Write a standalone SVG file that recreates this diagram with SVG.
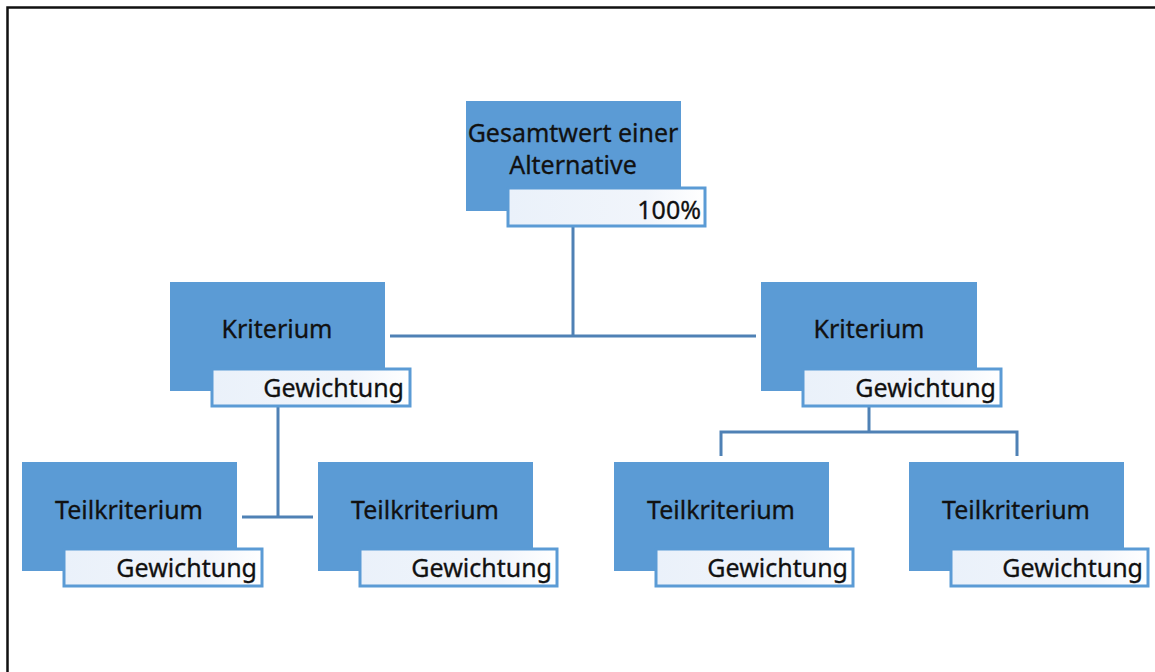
<svg xmlns="http://www.w3.org/2000/svg" width="1155" height="672" viewBox="0 0 1155 672">
<defs>
<linearGradient id="lg" x1="0" y1="0" x2="1" y2="0">
<stop offset="0" stop-color="#eaf1fa"/>
<stop offset="0.7" stop-color="#f1f5fb"/>
<stop offset="1" stop-color="#ffffff"/>
</linearGradient>
</defs>
<style>
.box{fill:#5b9bd5;}
.lab{fill:url(#lg);stroke:#5b9bd5;stroke-width:3;}
.t{font-family:"Noto Sans","Liberation Sans",sans-serif;font-size:25px;fill:#111;text-anchor:middle;stroke:#111;stroke-width:0.3;}
.w{font-family:"Noto Sans","Liberation Sans",sans-serif;font-size:25px;fill:#111;text-anchor:end;stroke:#111;stroke-width:0.3;}
.c{stroke:#4f81b5;stroke-width:3;fill:none;}
</style>
<rect x="0" y="0" width="1155" height="672" fill="#fff"/>
<path d="M7.5 672 V7.5 H1155" fill="none" stroke="#111" stroke-width="2.5"/>
<g id="connectors">
<path class="c" d="M573 216 V336 M390 336 H756"/>
<path class="c" d="M278 406 V517 M242 517 H313"/>
<path class="c" d="M869 406 V432 M721 456 V432 H1017 V456"/>
</g>
<g id="root">
<rect class="box" x="466" y="101" width="215" height="110"/>
<text class="t" x="573" y="142">Gesamtwert einer</text>
<text class="t" x="573" y="174">Alternative</text>
<rect class="lab" x="508" y="188" width="197" height="38"/>
<text class="w" x="701" y="219">100%</text>
</g>
<g id="k1">
<rect class="box" x="170" y="282" width="215" height="109"/>
<text class="t" x="277" y="338">Kriterium</text>
<rect class="lab" x="212" y="369" width="198" height="37"/>
<text class="w" x="404" y="397">Gewichtung</text>
</g>
<g id="k2">
<rect class="box" x="761" y="282" width="216" height="109"/>
<text class="t" x="869" y="338">Kriterium</text>
<rect class="lab" x="803" y="369" width="198" height="37"/>
<text class="w" x="996" y="397">Gewichtung</text>
</g>
<g id="t1">
<rect class="box" x="22" y="462" width="215" height="109"/>
<text class="t" x="129" y="519">Teilkriterium</text>
<rect class="lab" x="64" y="549" width="198" height="37"/>
<text class="w" x="257" y="577">Gewichtung</text>
</g>
<g id="t2">
<rect class="box" x="318" y="462" width="215" height="109"/>
<text class="t" x="425" y="519">Teilkriterium</text>
<rect class="lab" x="360" y="549" width="197" height="37"/>
<text class="w" x="552" y="577">Gewichtung</text>
</g>
<g id="t3">
<rect class="box" x="614" y="462" width="215" height="109"/>
<text class="t" x="721" y="519">Teilkriterium</text>
<rect class="lab" x="656" y="549" width="197" height="37"/>
<text class="w" x="848" y="577">Gewichtung</text>
</g>
<g id="t4">
<rect class="box" x="909" y="462" width="215" height="109"/>
<text class="t" x="1016" y="519">Teilkriterium</text>
<rect class="lab" x="951" y="549" width="197" height="37"/>
<text class="w" x="1143" y="577">Gewichtung</text>
</g>
</svg>
